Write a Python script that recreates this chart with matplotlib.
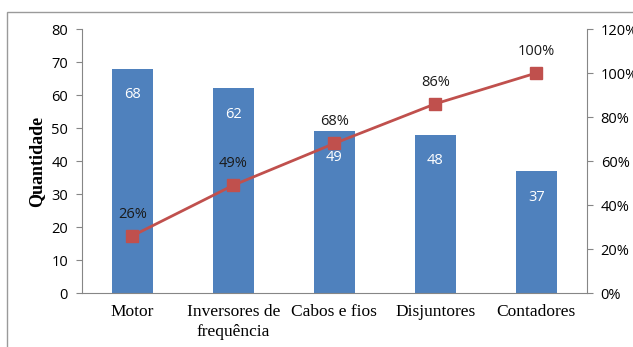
import matplotlib.pyplot as plt
import matplotlib.patches as mpatches
from matplotlib.ticker import FuncFormatter

categories = ['Motor', 'Inversores de\nfrequência', 'Cabos e fios', 'Disjuntores', 'Contadores']
quantities = [68, 62, 49, 48, 37]
cumulative_pct = [26, 49, 68, 86, 100]

bar_color = '#4F81BD'
line_color = '#C0504D'
axis_color = '#868686'
sans = ['Open Sans', 'DejaVu Sans']
serif = ['Liberation Serif', 'DejaVu Serif']

fig = plt.figure(figsize=(6.33, 3.47), dpi=100)
ax = fig.add_axes([0.1295, 0.1556, 0.7975, 0.7608])

x = range(len(categories))
ax.bar(x, quantities, width=0.4, color=bar_color, zorder=2)
for i, q in zip(x, quantities):
    ax.annotate(str(q), (i, q), xytext=(0, -19), textcoords='offset points',
                ha='center', va='center', color='white', fontsize=10.5, family=sans)

ax.set_xlim(-0.5, len(categories) - 0.5)
ax.set_ylim(0, 80)
ax.set_yticks(range(0, 81, 10))
ax.set_xticks(list(x))
ax.set_xticklabels(categories, family=serif, fontsize=12.5, linespacing=1.3)
ax.tick_params(axis='x', length=0, pad=8)
ax.tick_params(axis='y', length=4, color=axis_color, labelsize=10.5, pad=6)
for lbl in ax.get_yticklabels():
    lbl.set_family(sans)
ax.set_ylabel('Quantidade', family=serif, fontweight='bold', fontsize=13, labelpad=4)
for s in ['top', 'right']:
    ax.spines[s].set_visible(False)
for s in ['left', 'bottom']:
    ax.spines[s].set_color(axis_color)

ax2 = ax.twinx()
ax2.plot(list(x), cumulative_pct, color=line_color, linewidth=2, marker='s',
         markersize=9, zorder=3)
for i, p in zip(x, cumulative_pct):
    ax2.annotate(f'{p}%', (i, p), xytext=(0, 15.5), textcoords='offset points',
                 ha='center', va='center', color='#1a1a1a', fontsize=10.5, family=sans)
ax2.set_ylim(0, 120)
ax2.set_yticks(range(0, 121, 20))
ax2.yaxis.set_major_formatter(FuncFormatter(lambda v, _: f'{int(v)}%'))
ax2.tick_params(axis='y', length=4, color=axis_color, labelsize=10.5, pad=6)
for lbl in ax2.get_yticklabels():
    lbl.set_family(sans)
for s in ['top', 'left', 'bottom']:
    ax2.spines[s].set_visible(False)
ax2.spines['right'].set_color(axis_color)

# outer chart frame (cropped at right and bottom)
frame = mpatches.Rectangle((7 / 633, -0.1), 1.2, 1 - 12 / 347 + 0.1,
                           transform=fig.transFigure, fill=False,
                           edgecolor='#9a9a9a', linewidth=1)
fig.add_artist(frame)

fig.savefig('out.png', dpi=100)
